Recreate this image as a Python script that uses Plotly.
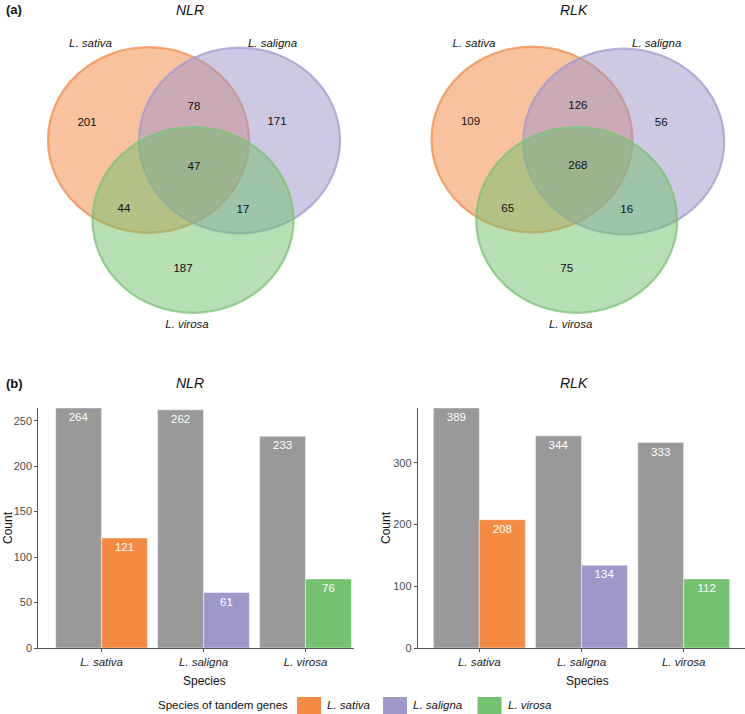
import plotly.graph_objects as go

# ---------------- data ----------------
species = ["L. sativa", "L. saligna", "L. virosa"]
species_colors = ["#F58A42", "#9E98C8", "#74C170"]

# Venn region counts: [sativa only, sativa&saligna, saligna only, all three,
#                      sativa&virosa, saligna&virosa, virosa only]
venn_regions = ["sat", "sat_sal", "sal", "all", "sat_vir", "sal_vir", "vir"]
nlr_venn = [201, 78, 171, 47, 44, 17, 187]
rlk_venn = [109, 126, 56, 268, 65, 16, 75]

# bar chart counts
nlr_all = [264, 262, 233]
nlr_tandem = [121, 61, 76]
rlk_all = [389, 344, 333]
rlk_tandem = [208, 134, 112]

W, H = 745, 714
FONT = "Arial, Liberation Sans, sans-serif"
FS = 11.5

fig = go.Figure()

# ---------------- Venn diagrams (axis x3/y3 in pixel-like units) ----------------
venn_panels = [
    dict(counts=nlr_venn, cx=[148.5, 239.5, 193.0], cy=[140, 140.5, 220]),
    dict(counts=rlk_venn, cx=[532.0, 623.7, 576.7], cy=[139.5, 141.5, 220]),
]
RX, RY = 100.5, 92.8
fill_rgba = ["rgba(243,133,62,0.50)", "rgba(155,148,203,0.50)", "rgba(112,192,106,0.50)"]
line_rgba = ["rgba(238,140,75,0.75)", "rgba(160,155,205,0.75)", "rgba(120,195,115,0.75)"]
# label anchor (circle index or None for midpoint of first two) and offsets
label_off = {
    "sat": (0, -61.5, 0, -17), "sat_sal": (None, 0, 0, -33),
    "sal": (1, 37.5, 1, -18), "all": (None, 0, 0, 27),
    "sat_vir": (2, -69, 2, -11), "sal_vir": (2, 50, 2, -10), "vir": (2, -10, 2, 49),
}

shapes = []
for p in venn_panels:
    for i in range(3):
        shapes.append(dict(type="circle", xref="x3", yref="y3",
                           x0=p["cx"][i] - RX, x1=p["cx"][i] + RX,
                           y0=p["cy"][i] - RY, y1=p["cy"][i] + RY,
                           fillcolor=fill_rgba[i],
                           line=dict(color=line_rgba[i], width=2.2), layer="below"))

count_x, count_y, count_t = [], [], []
set_x, set_y, set_t = [], [], []
for p in venn_panels:
    mid_x = (p["cx"][0] + p["cx"][1]) / 2
    for reg, val in zip(venn_regions, p["counts"]):
        ix, dx, iy, dy = label_off[reg]
        x = (mid_x if ix is None else p["cx"][ix]) + dx
        y = p["cy"][iy] + dy
        count_x.append(x); count_y.append(y); count_t.append(str(val))
    set_x += [p["cx"][0] - 58, p["cx"][1] + 33, p["cx"][2] - 6]
    set_y += [44, 44, 325]
    set_t += species

fig.add_trace(go.Scatter(x=count_x, y=count_y, text=count_t, mode="text",
                         textfont=dict(family=FONT, size=FS, color="#111111"),
                         xaxis="x3", yaxis="y3", showlegend=False, hoverinfo="skip"))
fig.add_trace(go.Scatter(x=set_x, y=set_y, text=set_t, mode="text",
                         textfont=dict(family=FONT, size=FS, color="#111111", style="italic"),
                         xaxis="x3", yaxis="y3", showlegend=False, hoverinfo="skip"))

# ---------------- bar charts ----------------
GRAY = "#999999"
bar_line = dict(color="rgba(255,255,255,0.45)", width=1)
for (all_v, tan_v, xa, ya) in [(nlr_all, nlr_tandem, "x", "y"), (rlk_all, rlk_tandem, "x2", "y2")]:
    fig.add_trace(go.Bar(x=species, y=all_v, offsetgroup="all", marker=dict(color=GRAY, line=bar_line),
                         text=[str(v) for v in all_v], textposition="inside", insidetextanchor="end",
                         textfont=dict(family=FONT, size=FS, color="white"), textangle=0,
                         xaxis=xa, yaxis=ya, showlegend=False, hoverinfo="skip"))
    for s, v, c in zip(species, tan_v, species_colors):
        fig.add_trace(go.Bar(x=[s], y=[v], offsetgroup="tandem", marker=dict(color=c, line=bar_line),
                             text=[str(v)], textposition="inside", insidetextanchor="end",
                             textfont=dict(family=FONT, size=FS, color="white"), textangle=0,
                             xaxis=xa, yaxis=ya, showlegend=False, hoverinfo="skip"))

y_bot = 1 - 648 / H
y_top = 1 - 408 / H
line_common = dict(showline=True, linecolor="#555555", linewidth=1, showgrid=False, zeroline=False,
                   automargin=False, ticks="outside", ticklen=3, tickcolor="#555555")
xtick_font = dict(family=FONT, size=FS, color="#222222", style="italic")
ytick_font = dict(family=FONT, size=11, color="#4D4D4D")
fig.update_layout(
    xaxis=dict(domain=[38.3 / W, 354 / W], range=[-0.62, 2.475], anchor="y",
               tickfont=xtick_font, **line_common),
    yaxis=dict(domain=[y_bot, y_top], range=[0, 264], anchor="x",
               tickvals=[0, 50, 100, 150, 200, 250], tickfont=ytick_font, **line_common),
    xaxis2=dict(domain=[417.7 / W, 1.0], range=[-0.603, 2.6], anchor="y2",
                tickfont=xtick_font, **line_common),
    yaxis2=dict(domain=[y_bot, y_top], range=[0, 389], anchor="x2",
                tickvals=[0, 100, 200, 300], tickfont=ytick_font, **line_common),
    xaxis3=dict(domain=[0, 1], range=[0, W], visible=False, fixedrange=True, automargin=False),
    yaxis3=dict(domain=[1 - 360 / H, 1], range=[360, 0], visible=False, fixedrange=True,
                anchor="x3", automargin=False),
    barmode="group", bargap=0.1, bargroupgap=0,
    width=W, height=H, margin=dict(l=0, r=0, t=0, b=0, pad=0, autoexpand=False),
    paper_bgcolor="white", plot_bgcolor="rgba(0,0,0,0)",
    font=dict(family=FONT, color="#111111"),
    showlegend=False,
)

# ---------------- titles / panel letters / axis titles ----------------
ann = []
def px(x, y, text, size=FS, xanchor="center", **kw):
    ann.append(dict(x=x / W, y=1 - y / H, xref="paper", yref="paper", text=text, showarrow=False,
                    xanchor=xanchor, yanchor="middle",
                    font=dict(family=FONT, size=size, color="#111111"), **kw))
px(4, 10, "<b>(a)</b>", 13, xanchor="left")
px(4, 383, "<b>(b)</b>", 13, xanchor="left")
px(190, 10, "<i>NLR</i>", 14)
px(574, 10, "<i>RLK</i>", 14)
px(190, 383, "<i>NLR</i>", 14)
px(574, 383, "<i>RLK</i>", 14)
px(204, 681, "Species", 12)
px(587, 681, "Species", 12)
px(8, 528, "Count", 12, textangle=-90)
px(386, 528, "Count", 12, textangle=-90)

# ---------------- legend (manual, bottom) ----------------
px(290, 705, "Species of tandem genes", FS, xanchor="right")
sw_x = [297, 383, 477.5]
for s, c, x0 in zip(species, species_colors, sw_x):
    shapes.append(dict(type="rect", xref="paper", yref="paper", x0=x0 / W, x1=(x0 + 24) / W,
                       y0=1 - 714 / H, y1=1 - 697 / H, fillcolor=c, line=dict(width=0)))
    px(x0 + 28, 705, "<i>%s</i>" % s, FS, xanchor="left")

fig.update_layout(shapes=shapes, annotations=ann)
fig.write_html("out.html", config={"displayModeBar": False},
               post_script="document.body.style.margin='0';document.body.style.overflow='hidden';")
